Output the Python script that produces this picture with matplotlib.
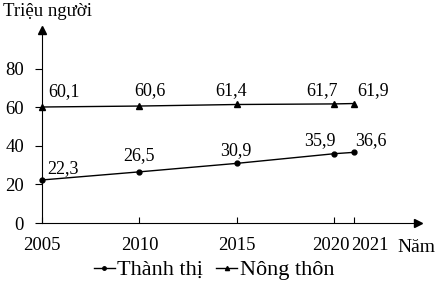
import matplotlib.pyplot as plt
from matplotlib.lines import Line2D
from matplotlib.transforms import ScaledTranslation

years = [2005, 2010, 2015, 2020, 2021]
thanh_thi = [22.3, 26.5, 30.9, 35.9, 36.6]
nong_thon = [60.1, 60.6, 61.4, 61.7, 61.9]
yticks = [0, 20, 40, 60, 80]

plt.rcParams['font.family'] = ['Liberation Serif', 'DejaVu Serif']
fs = 13.5
px = 0.72  # points per pixel at dpi 100

fig = plt.figure(figsize=(4.38, 2.83), dpi=100)
ax = fig.add_axes([42/438, 60/283, 376/438, 193/283])

ax.plot(years, thanh_thi, color='black', lw=1, marker='o', ms=3.5, clip_on=False)
ax.plot(years, nong_thon, color='black', lw=1, marker='^', ms=4, clip_on=False)

# label placement (pixels): (dx, dy, ha)
pos_tt = [(5, 7, 'left'), (0, 12, 'center'), (-1, 8, 'center'),
          (-14, 8.5, 'center'), (1, 7, 'left')]
pos_nt = [(6, 11, 'left'), (11, 11, 'center'), (-6, 9.5, 'center'),
          (-12, 9, 'center'), (4, 8.5, 'left')]
for vals, pos in ((thanh_thi, pos_tt), (nong_thon, pos_nt)):
    for x, v, (dx, dy, ha) in zip(years, vals, pos):
        ax.annotate(f"{v:.1f}".replace('.', ','), (x, v),
                    xytext=(dx * px, dy * px), textcoords='offset points',
                    ha=ha, va='baseline', fontsize=13)

ax.set_xlim(2005, 2024.3)
ax.set_ylim(0, 100)
ax.set_xticks(years)
ax.set_yticks(yticks)
ax.tick_params(axis='x', direction='in', length=4, labelsize=fs, pad=10)
ax.tick_params(axis='y', direction='out', length=5, labelsize=fs, pad=8)
for s in ['top', 'right']:
    ax.spines[s].set_visible(False)

# nudge the crowded 2020 / 2021 labels apart
labels = ax.get_xticklabels()
for lab, dx in zip(labels[3:], (-3, 16)):
    lab.set_transform(lab.get_transform() +
                      ScaledTranslation(dx * px / 72, 0, fig.dpi_scale_trans))

# axis arrows
ax.plot(1, 0, '>', color='black', ms=6, transform=ax.transAxes, clip_on=False)
ax.plot(0, 1, '^', color='black', ms=6, transform=ax.transAxes, clip_on=False)

fig.text(3/438, 1 - 11/283, "Triệu người", fontsize=fs, va='center', ha='left')
fig.text(397/438, 1 - 247/283, "Năm", fontsize=14, va='center', ha='left')

handles = [Line2D([], [], color='black', lw=1, marker='o', ms=2.5),
           Line2D([], [], color='black', lw=1, marker='^', ms=3)]
fig.legend(handles, ["Thành thị", "Nông thôn"], loc='center',
           bbox_to_anchor=(214/438, 1 - 270/283), ncol=2, frameon=False,
           fontsize=16, handlelength=0.95, handletextpad=0.1,
           columnspacing=0.6, borderpad=0)

fig.savefig("out.png", dpi=100)
